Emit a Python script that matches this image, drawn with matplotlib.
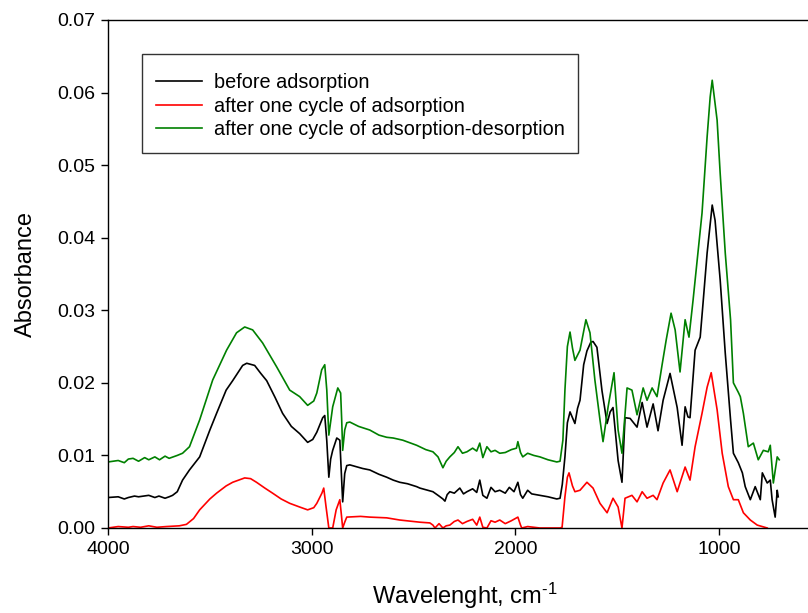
import matplotlib
matplotlib.use("Agg")
import matplotlib.pyplot as plt
import numpy as np

plt.rcParams['font.family'] = ['Liberation Sans', 'DejaVu Sans']
plt.rcParams['mathtext.fontset'] = 'custom'
plt.rcParams['mathtext.rm'] = 'Liberation Sans'
plt.rcParams['mathtext.it'] = 'Liberation Sans:italic'

# ---- data (wavenumber, absorbance) ----
black_x = [4000, 3950, 3920, 3900, 3870, 3850, 3800, 3770, 3750, 3720, 3700, 3683, 3660, 3634, 3600, 3550,
           3500, 3467, 3420, 3388, 3339, 3319, 3280, 3250, 3221, 3180, 3143, 3100, 3059, 3020, 2995,
           2975, 2946, 2936, 2926, 2916, 2907, 2897, 2877, 2862, 2855, 2848, 2838, 2828, 2813, 2750,
           2715, 2670, 2632, 2600, 2568, 2530, 2485, 2469, 2430, 2405, 2375, 2356, 2346, 2335, 2322,
           2300, 2273, 2255, 2238, 2210, 2190, 2175, 2160, 2140, 2120, 2100, 2077, 2050, 2030, 2007,
           1988, 1975, 1964, 1940, 1920, 1900, 1880, 1840, 1797, 1781, 1770, 1757, 1745, 1732, 1720,
           1708, 1695, 1683, 1665, 1649, 1630, 1619, 1600, 1575, 1550, 1535, 1521, 1505, 1496, 1477,
           1462, 1437, 1403, 1378, 1354, 1324, 1300, 1275, 1241, 1206, 1182, 1167, 1153, 1143, 1118,
           1093, 1079, 1059, 1034, 1020, 995, 970, 944, 930, 906, 886, 872, 847, 823, 798, 788, 764,
           749, 740, 725, 715, 710]
black_y = [0.0042, 0.0043, 0.0040, 0.0042, 0.0044, 0.0043, 0.0045, 0.0042, 0.0044, 0.0041, 0.0043, 0.0045,
           0.0050, 0.0066, 0.0080, 0.0098, 0.0135, 0.0158, 0.0190, 0.0203, 0.0224, 0.0227, 0.0224,
           0.0213, 0.0203, 0.0180, 0.0158, 0.0140, 0.0130, 0.0118, 0.0122, 0.0132, 0.0152, 0.0155,
           0.0120, 0.0070, 0.0095, 0.0107, 0.0124, 0.0121, 0.0080, 0.0036, 0.0075, 0.0086, 0.0087,
           0.0082, 0.0080, 0.0074, 0.0070, 0.0066, 0.0063, 0.0061, 0.0057, 0.0055, 0.0052, 0.0050,
           0.0044, 0.0040, 0.0037, 0.0046, 0.0050, 0.0048, 0.0055, 0.0047, 0.0050, 0.0054, 0.0049,
           0.0066, 0.0045, 0.0041, 0.0056, 0.0050, 0.0052, 0.0048, 0.0056, 0.0050, 0.0063, 0.0046,
           0.0041, 0.0052, 0.0047, 0.0046, 0.0045, 0.0043, 0.0040, 0.0041, 0.0060, 0.0098, 0.0145,
           0.0160, 0.0152, 0.0144, 0.0165, 0.0176, 0.0225, 0.0244, 0.0256, 0.0257, 0.0249, 0.0189,
           0.0144, 0.0160, 0.0166, 0.0120, 0.0093, 0.0063, 0.0152, 0.0151, 0.0139, 0.0173, 0.0139,
           0.0171, 0.0134, 0.0176, 0.0213, 0.0166, 0.0114, 0.0167, 0.0153, 0.0152, 0.0245, 0.0263,
           0.0310, 0.0379, 0.0445, 0.0424, 0.0342, 0.0241, 0.0149, 0.0103, 0.0090, 0.0076, 0.0057,
           0.0039, 0.0057, 0.0039, 0.0076, 0.0062, 0.0066, 0.0039, 0.0015, 0.0052, 0.0043]

red_x = [4000, 3950, 3900, 3877, 3840, 3800, 3760, 3713, 3650, 3615, 3580, 3550, 3500, 3467, 3420, 3388,
         3329, 3300, 3271, 3230, 3192, 3150, 3108, 3060, 3020, 2990, 2975, 2950, 2941, 2930, 2916,
         2897, 2880, 2862, 2855, 2848, 2838, 2828, 2760, 2715, 2632, 2568, 2469, 2420, 2405, 2395,
         2375, 2356, 2340, 2322, 2300, 2282, 2260, 2238, 2210, 2190, 2175, 2160, 2140, 2120, 2100,
         2077, 2050, 2020, 1988, 1975, 1969, 1940, 1910, 1880, 1840, 1781, 1771, 1757, 1745, 1737,
         1720, 1708, 1683, 1649, 1619, 1585, 1550, 1521, 1496, 1477, 1462, 1428, 1403, 1378, 1354,
         1324, 1305, 1275, 1241, 1206, 1167, 1143, 1118, 1084, 1059, 1039, 1010, 985, 955, 930, 906,
         881, 847, 813, 764]
red_y = [0.0000, 0.0002, 0.0001, 0.0002, 0.0001, 0.0003, 0.0001, 0.0002, 0.0003, 0.0005, 0.0013, 0.0025,
         0.0040, 0.0048, 0.0058, 0.0063, 0.0069, 0.0068, 0.0063, 0.0055, 0.0048, 0.0040, 0.0034,
         0.0029, 0.0025, 0.0028, 0.0034, 0.0048, 0.0055, 0.0030, 0.0000, 0.0000, 0.0025, 0.0039,
         0.0020, 0.0000, 0.0008, 0.0015, 0.0016, 0.0015, 0.0014, 0.0011, 0.0008, 0.0007, 0.0004,
         0.0000, 0.0006, 0.0000, 0.0003, 0.0004, 0.0009, 0.0011, 0.0006, 0.0009, 0.0012, 0.0004,
         0.0015, 0.0001, 0.0000, 0.0010, 0.0008, 0.0011, 0.0006, 0.0010, 0.0015, 0.0004, 0.0000,
         0.0002, 0.0001, 0.0000, 0.0000, 0.0000, 0.0001, 0.0043, 0.0070, 0.0076, 0.0058, 0.0050,
         0.0052, 0.0063, 0.0055, 0.0034, 0.0021, 0.0041, 0.0029, 0.0000, 0.0041, 0.0045, 0.0036,
         0.0050, 0.0041, 0.0045, 0.0039, 0.0062, 0.0080, 0.0050, 0.0084, 0.0066, 0.0112, 0.0158,
         0.0194, 0.0214, 0.0163, 0.0103, 0.0057, 0.0039, 0.0039, 0.0021, 0.0011, 0.0004, 0.0000]

green_x = [4000, 3950, 3920, 3900, 3877, 3850, 3820, 3800, 3770, 3747, 3720, 3700, 3660, 3634, 3600, 3550,
           3486, 3418, 3369, 3329, 3290, 3241, 3172, 3108, 3059, 3020, 2990, 2975, 2951, 2936, 2926,
           2916, 2897, 2872, 2858, 2853, 2848, 2838, 2828, 2813, 2770, 2715, 2670, 2632, 2600, 2553,
           2485, 2440, 2405, 2380, 2356, 2340, 2322, 2300, 2282, 2260, 2238, 2210, 2190, 2175, 2160,
           2140, 2120, 2100, 2077, 2050, 2020, 1995, 1988, 1975, 1964, 1940, 1910, 1880, 1840, 1797,
           1781, 1767, 1757, 1745, 1732, 1720, 1708, 1683, 1654, 1634, 1610, 1585, 1570, 1545, 1516,
           1496, 1477, 1452, 1428, 1403, 1373, 1354, 1329, 1305, 1280, 1260, 1236, 1216, 1192, 1167,
           1148, 1128, 1108, 1084, 1059, 1044, 1034, 1010, 995, 970, 944, 930, 906, 896, 881, 857,
           832, 808, 783, 759, 749, 734, 715, 705]
green_y = [0.0091, 0.0093, 0.0090, 0.0095, 0.0096, 0.0092, 0.0097, 0.0094, 0.0098, 0.0094, 0.0099, 0.0096,
           0.0100, 0.0103, 0.0112, 0.0149, 0.0204, 0.0245, 0.0269, 0.0277, 0.0273, 0.0255, 0.0222,
           0.0190, 0.0181, 0.0169, 0.0175, 0.0186, 0.0218, 0.0225, 0.0190, 0.0128, 0.0167, 0.0193,
           0.0186, 0.0150, 0.0107, 0.0135, 0.0145, 0.0146, 0.0140, 0.0135, 0.0128, 0.0125, 0.0124,
           0.0121, 0.0114, 0.0108, 0.0105, 0.0098, 0.0083, 0.0092, 0.0098, 0.0104, 0.0112, 0.0103,
           0.0105, 0.0110, 0.0106, 0.0117, 0.0097, 0.0112, 0.0105, 0.0107, 0.0103, 0.0104, 0.0108,
           0.0110, 0.0119, 0.0104, 0.0098, 0.0103, 0.0100, 0.0098, 0.0094, 0.0091, 0.0092, 0.0121,
           0.0190, 0.0250, 0.0270, 0.0248, 0.0231, 0.0245, 0.0287, 0.0269, 0.0204, 0.0149, 0.0119,
           0.0167, 0.0214, 0.0135, 0.0103, 0.0193, 0.0190, 0.0156, 0.0193, 0.0176, 0.0193, 0.0181,
           0.0225, 0.0259, 0.0296, 0.0273, 0.0215, 0.0287, 0.0263, 0.0314, 0.0369, 0.0434, 0.0539,
           0.0594, 0.0617, 0.0562, 0.0489, 0.0379, 0.0287, 0.0200, 0.0187, 0.0181, 0.0158, 0.0112,
           0.0117, 0.0094, 0.0107, 0.0105, 0.0114, 0.0062, 0.0098, 0.0094]

labels = ['before adsorption', 'after one cycle of adsorption',
          'after one cycle of adsorption-desorption']
y_ticks = [0.00, 0.01, 0.02, 0.03, 0.04, 0.05, 0.06, 0.07]
x_ticks = [4000, 3000, 2000, 1000]

W, H = 808, 613
fig = plt.figure(figsize=(W / 100, H / 100), dpi=100)
left, right, top, bottom = 108, 821, 20, 528
ax = fig.add_axes([left / W, 1 - bottom / H, (right - left) / W, (bottom - top) / H])

ax.plot(black_x, black_y, color='black', lw=1.2, label=labels[0])
ax.plot(red_x, red_y, color='#ff0000', lw=1.2, label=labels[1])
ax.plot(green_x, green_y, color='#008000', lw=1.2, label=labels[2])

ax.set_xlim(4000, 500)
ax.set_ylim(0, 0.07)
ax.set_xticks(x_ticks)
ax.set_xticklabels([str(t) for t in x_ticks])
ax.set_yticks(y_ticks)
ax.set_yticklabels(['%.2f' % t for t in y_ticks])
ax.tick_params(direction='out', length=5, width=1, labelsize=14, pad=4,
               top=False, right=False)
ax.spines['right'].set_visible(False)
for s in ['left', 'bottom', 'top']:
    ax.spines[s].set_linewidth(1.0)

ax.set_ylabel('Absorbance', fontsize=17, labelpad=15)
ax.set_xlabel(r'Wavelenght, cm$^{\text{-}1}$', fontsize=17, labelpad=17)

leg = ax.legend(loc='upper left', bbox_to_anchor=(142 / W, 1 - 54 / H),
                bbox_transform=fig.transFigure, fontsize=14.3, frameon=True,
                fancybox=False, shadow=False, borderpad=0.7, labelspacing=0.22,
                handlelength=2.3, handletextpad=0.6, borderaxespad=0,
                title=' ', title_fontsize=1.5)
leg.get_frame().set_edgecolor('black')
leg.get_frame().set_linewidth(1.0)

fig.savefig('out.png', dpi=100)
